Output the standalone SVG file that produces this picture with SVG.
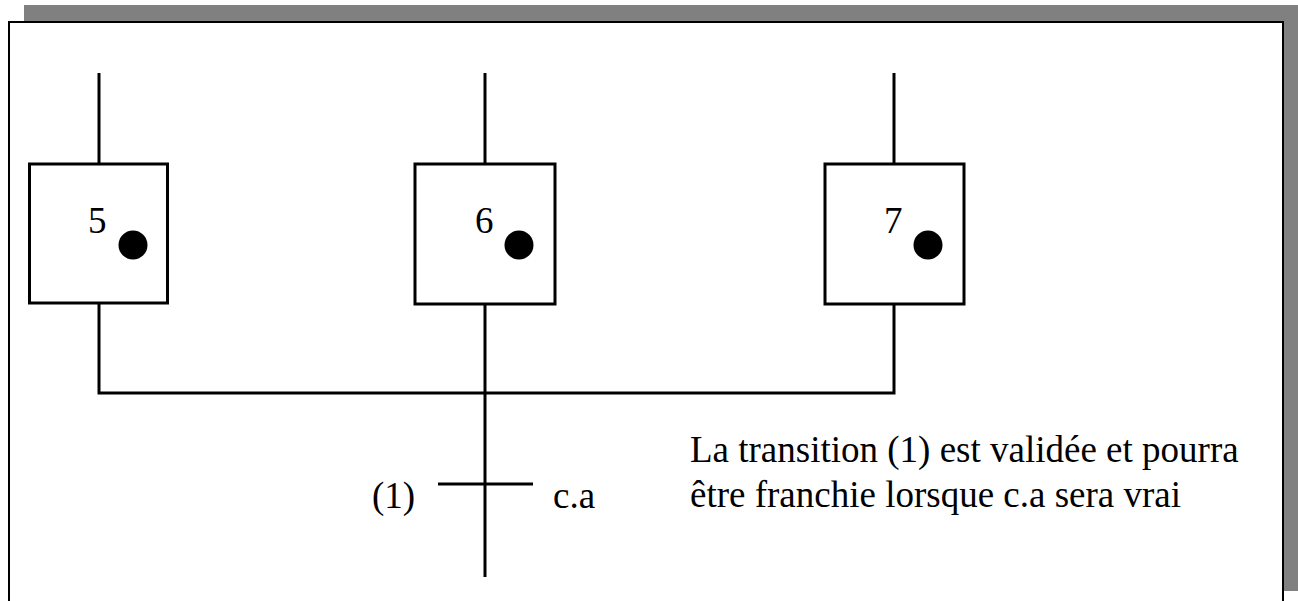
<svg xmlns="http://www.w3.org/2000/svg" width="1298" height="601" viewBox="0 0 1298 601">
<style>
.ln{stroke:#000;stroke-width:3;fill:none}
.box{stroke:#000;stroke-width:3;fill:#fff}
.t{font-family:"Liberation Serif","Times New Roman",serif;font-size:37px;fill:#000}
</style>
<rect x="24" y="5" width="1274" height="586" fill="#808080"/>
<rect x="9" y="22" width="1274" height="600" fill="#fff" stroke="#000" stroke-width="2"/>
<g id="connectors">
<line class="ln" x1="99" y1="73" x2="99" y2="164"/>
<line class="ln" x1="485" y1="73" x2="485" y2="164"/>
<line class="ln" x1="894" y1="73" x2="894" y2="164"/>
<polyline class="ln" points="99,303 99,393 894,393 894,304"/>
<line class="ln" x1="485" y1="304" x2="485" y2="577"/>
</g>
<g id="step5">
<rect class="box" x="29.5" y="164" width="138" height="139"/>
<text class="t" x="88" y="233">5</text>
<circle cx="133" cy="245" r="14.5"/>
</g>
<g id="step6">
<rect class="box" x="415" y="164" width="140" height="140"/>
<text class="t" x="475" y="233">6</text>
<circle cx="519" cy="245" r="14.5"/>
</g>
<g id="step7">
<rect class="box" x="825" y="164" width="139" height="140"/>
<text class="t" x="884" y="233">7</text>
<circle cx="928" cy="245" r="14.5"/>
</g>
<g id="transition1">
<line class="ln" x1="438" y1="484" x2="533" y2="484"/>
<text class="t" x="372" y="508">(1)</text>
<text class="t" x="553" y="508">c.a</text>
</g>
<g id="note">
<text class="t" x="690" y="462">La transition (1) est validée et pourra</text>
<text class="t" x="690" y="507">être franchie lorsque c.a sera vrai</text>
</g>
</svg>
